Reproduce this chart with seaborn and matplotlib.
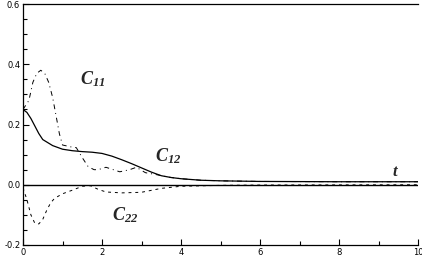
import matplotlib
matplotlib.use("Agg")
import matplotlib.pyplot as plt
import seaborn as sns
import pandas as pd
from matplotlib.ticker import MultipleLocator, FormatStrFormatter

# ---- data ----
t_c11 = [0.0, 0.15, 0.25, 0.35, 0.45, 0.55, 0.65, 0.75, 0.85, 0.92, 1.0, 1.2, 1.35,
         1.5, 1.65, 1.8, 1.9, 2.1, 2.45, 2.7, 2.87, 3.1, 3.4, 3.7, 4.0, 4.5, 5.0, 6.0, 8.0, 10.0]
c11 = [0.25, 0.28, 0.34, 0.37, 0.38, 0.37, 0.34, 0.29, 0.22, 0.17, 0.132, 0.126, 0.123,
       0.09, 0.06, 0.05, 0.05, 0.058, 0.043, 0.05, 0.058, 0.04, 0.033, 0.025, 0.02, 0.015, 0.013, 0.011, 0.01, 0.01]

t_c12 = [0.0, 0.1, 0.2, 0.3, 0.4, 0.5, 0.75, 1.0, 1.25, 1.5, 1.75, 2.0, 2.25, 2.5, 2.75,
         3.0, 3.25, 3.5, 3.75, 4.0, 4.5, 5.0, 6.0, 8.0, 10.0]
c12 = [0.25, 0.24, 0.22, 0.195, 0.17, 0.15, 0.13, 0.118, 0.113, 0.11, 0.108, 0.104, 0.095, 0.083, 0.07,
       0.056, 0.042, 0.03, 0.024, 0.02, 0.015, 0.013, 0.011, 0.01, 0.01]

t_c22 = [0.0, 0.1, 0.2, 0.3, 0.4, 0.5, 0.6, 0.7, 0.8, 1.0, 1.25, 1.5, 1.7, 1.9, 2.1,
         2.5, 3.0, 3.5, 4.0, 5.0, 6.0, 10.0]
c22 = [-0.01, -0.05, -0.1, -0.128, -0.13, -0.115, -0.085, -0.06, -0.045, -0.03, -0.018, -0.005, -0.003, -0.015, -0.024,
       -0.027, -0.025, -0.012, -0.005, -0.002, -0.001, 0.0]

x_ticks = [0, 2, 4, 6, 8, 10]
y_ticks = [-0.2, 0.0, 0.2, 0.4, 0.6]

sns.set_style("ticks")
plt.rcParams["mathtext.fontset"] = "custom"
plt.rcParams["mathtext.it"] = "Liberation Serif:italic:bold"
plt.rcParams["mathtext.rm"] = "Liberation Serif:italic:bold"

fig = plt.figure(figsize=(4.22, 2.6), dpi=100)
ax = fig.add_axes([23 / 422, 15 / 260, 395 / 422, 241 / 260])

df11 = pd.DataFrame({"t": t_c11, "v": c11})
df12 = pd.DataFrame({"t": t_c12, "v": c12})
df22 = pd.DataFrame({"t": t_c22, "v": c22})

ax.axhline(0, color="black", lw=1.0, zorder=1)
sns.lineplot(data=df12, x="t", y="v", ax=ax, color="black", lw=0.9, estimator=None, sort=False)
sns.lineplot(data=df11, x="t", y="v", ax=ax, color="black", lw=0.7, estimator=None, sort=False,
             linestyle=(0, (5, 4, 1, 4)))
sns.lineplot(data=df22, x="t", y="v", ax=ax, color="black", lw=0.7, estimator=None, sort=False,
             linestyle=(0, (3, 4)))

ax.set_xlim(0, 10)
ax.set_ylim(-0.2, 0.6)
ax.set_xticks(x_ticks)
ax.set_yticks(y_ticks)
ax.xaxis.set_minor_locator(MultipleLocator(1))
ax.yaxis.set_minor_locator(MultipleLocator(0.05))
ax.yaxis.set_major_formatter(FormatStrFormatter("%.1f"))
ax.tick_params(which="both", direction="in", labelsize=6, width=0.8, color="black",
               labelcolor="black", pad=2)
ax.tick_params(which="major", length=4)
ax.tick_params(which="minor", length=3)
ax.set_xlabel("")
ax.set_ylabel("")
for s in ["left", "bottom", "top"]:
    ax.spines[s].set_color("black")
    ax.spines[s].set_linewidth(0.9)
ax.spines["right"].set_visible(False)

ax.text(1.45, 0.35, r"$C_{11}$", fontsize=13, ha="left", va="center")
ax.text(3.35, 0.095, r"$C_{12}$", fontsize=13, ha="left", va="center")
ax.text(2.25, -0.10, r"$C_{22}$", fontsize=13, ha="left", va="center")
ax.text(9.35, 0.045, r"$t$", fontsize=12, ha="left", va="center")

fig.savefig("out.png", dpi=100)
